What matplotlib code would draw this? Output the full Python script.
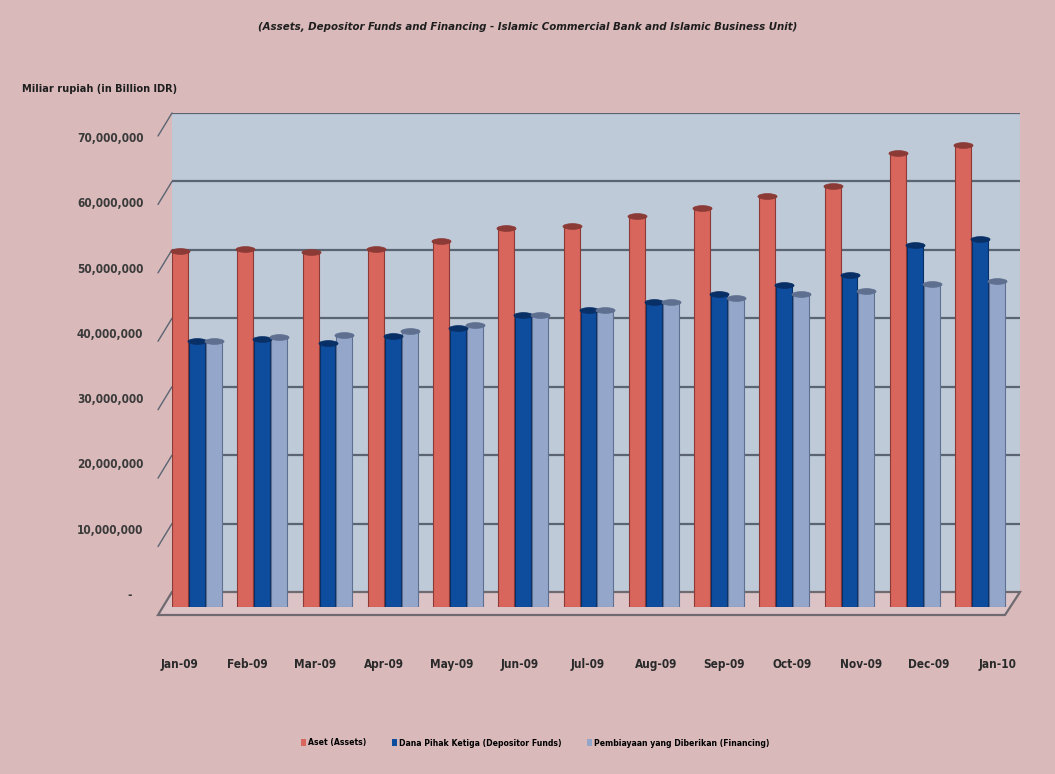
import numpy as np
import matplotlib.pyplot as plt
from matplotlib.patches import Polygon
from matplotlib.path import Path
from matplotlib.ticker import FuncFormatter

months = ["Jan-09", "Feb-09", "Mar-09", "Apr-09", "May-09", "Jun-09", "Jul-09",
          "Aug-09", "Sep-09", "Oct-09", "Nov-09", "Dec-09", "Jan-10"]
# values in "miliar rupiah" units as shown on the axis
aset = [52.0, 52.3, 51.9, 52.3, 53.5, 55.4, 55.7, 57.2, 58.3, 60.1, 61.5, 66.4, 67.5]
dpk = [38.9, 39.2, 38.6, 39.6, 40.8, 42.7, 43.4, 44.6, 45.8, 47.1, 48.5, 52.9, 53.8]
pembiayaan = [38.9, 39.5, 39.8, 40.4, 41.2, 42.7, 43.4, 44.6, 45.2, 45.8, 46.2, 47.2, 47.7]
series_names = ["Aset (Assets)", "Dana Pihak Ketiga (Depositor Funds)",
                "Pembiayaan yang Diberikan (Financing)"]
yticks = np.arange(0, 70_000_001, 10_000_000)

W, H = 1055, 774
BG = "#D9B9BA"
WALL = "#BECAD8"
GRID = "#5B6472"
FONT = dict(family="DejaVu Sans", stretch="condensed", weight="bold")
colors = ["#D8665C", "#0E4C9E", "#94A7CB"]
edges = ["#8C3A36", "#082F66", "#5E6F90"]


def rect(left, top, right, bottom):
    # pixel box -> figure fraction
    return [left / W, 1 - bottom / H, (right - left) / W, (bottom - top) / H]


fig = plt.figure(figsize=(W / 100, H / 100), dpi=100, facecolor=BG)

# back wall with gridlines
ax_wall = fig.add_axes(rect(172, 113, 1020, 592))
ax_wall.set_zorder(0)
ax_wall.set_facecolor(WALL)
ax_wall.set_ylim(0, 70_000_000)
ax_wall.set_xlim(0, 1)
for v in yticks[1:]:
    ax_wall.axhline(v, color=GRID, lw=1.6)
    ax_wall.annotate("", xy=(0, v), xycoords=ax_wall.get_yaxis_transform(),
                     xytext=(-14, -23), textcoords="offset pixels",
                     arrowprops=dict(arrowstyle="-", color=GRID, lw=1.0,
                                     shrinkA=0, shrinkB=0),
                     annotation_clip=False)
ax_wall.set_xticks([])
ax_wall.set_yticks([])
for s in ax_wall.spines.values():
    s.set_visible(False)

# floor
floor_px = [(158, 615), (172, 592), (1020, 592), (1005, 615)]
floor = Polygon([(x / W, 1 - y / H) for x, y in floor_px], closed=True,
                transform=fig.transFigure, facecolor="#DCC3C6",
                edgecolor="#6E6A70", lw=1.6, zorder=1)
fig.add_artist(floor)

# bars
ax_bar = fig.add_axes(rect(172, 607 - 6.84 * 70, 1010, 607))
ax_bar.set_zorder(2)
ax_bar.patch.set_alpha(0)
ax_bar.set_ylim(0, 70_000_000)
ax_bar.set_xlim(-(197 - 172) / 65.25, 12 + (1010 - 980) / 65.25)
x = np.arange(len(months))
bw = 0.245
offs = [-0.26, 0.0, 0.26]
cap = Path([(np.cos(t), 0.3 * np.sin(t)) for t in np.linspace(0, 2 * np.pi, 40)])
for vals, off, c, e in zip([aset, dpk, pembiayaan], offs, colors, edges):
    v = np.array(vals) * 1_000_000
    ax_bar.bar(x + off, v, width=bw, color=c, edgecolor=e, lw=0.8)
    ax_bar.scatter(x + off, v, marker=cap, s=190, color=e, edgecolors=e,
                   linewidths=0.5, zorder=3, clip_on=False)
ax_bar.axis("off")

# axis labels (front plane)
ax_lab = fig.add_axes(rect(160, 137, 1010, 594))
ax_lab.set_zorder(3)
ax_lab.patch.set_alpha(0)
ax_lab.set_ylim(0, 70_000_000)
ax_lab.set_xlim(-(179 - 160) / 68.17, 12 + (1010 - 997) / 68.17)
ax_lab.set_yticks(yticks)
ax_lab.yaxis.set_major_formatter(
    FuncFormatter(lambda v, p: f"{int(v):,}" if v > 0 else "-   "))
ax_lab.set_xticks(x)
ax_lab.set_xticklabels(months)
ax_lab.tick_params(axis="y", length=0, pad=12, labelcolor="#3A3A3A")
ax_lab.tick_params(axis="x", length=0, pad=46, labelcolor="#2A2A2A")
for lab in ax_lab.get_yticklabels() + ax_lab.get_xticklabels():
    lab.set_family(FONT["family"])
    lab.set_stretch(FONT["stretch"])
    lab.set_fontweight("bold")
    lab.set_fontsize(8.5)
for s in ax_lab.spines.values():
    s.set_visible(False)

fig.text(528 / W, 1 - 27 / H,
         "(Assets, Depositor Funds and Financing - Islamic Commercial Bank and Islamic Business Unit)",
         ha="center", va="center", fontstyle="italic", fontsize=8.2,
         color="#1E1E1E", **FONT)
fig.text(22 / W, 1 - 89 / H, "Miliar rupiah (in Billion IDR)", ha="left",
         va="center", fontsize=7.8, color="#1E1E1E", **FONT)

handles = [plt.Rectangle((0, 0), 1, 1, facecolor=c, edgecolor="none") for c in colors]
fig.legend(handles, series_names, loc="center", bbox_to_anchor=(535 / W, 1 - 743 / H),
           ncol=3, frameon=False, handlelength=0.6, handleheight=1.0,
           handletextpad=0.2, columnspacing=3.0,
           prop=dict(size=6.2, **FONT))

fig.savefig("out.png", dpi=100, facecolor=BG)
